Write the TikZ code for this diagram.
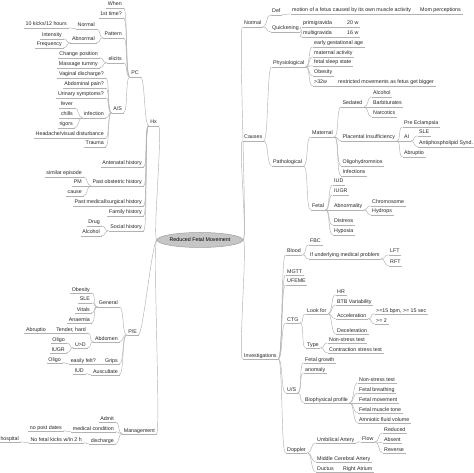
\documentclass[tikz,border=0pt]{standalone}
\usepackage{fontspec}
\setmainfont{Liberation Sans}
\usetikzlibrary{shapes.geometric}
\newcommand\mmfont{\fontsize{5.3}{6}\selectfont}
\begin{document}
\begin{tikzpicture}[x=1pt,y=-1pt,
  ul/.style={draw=gray!60, line width=0.45pt},
  con/.style={draw=gray!60, line width=0.45pt},
  tx/.style={font=\mmfont, text=black!85, inner xsep=1.5pt, inner ysep=0.6pt, text height=4pt, text depth=1pt,
    append after command={\pgfextra{\let\ulnode=\tikzlastnode} (\ulnode.south west) edge[ul] (\ulnode.south east)}},
  nr/.style={tx, anchor=base west},
  nl/.style={tx, anchor=base east},
  rc/.style={out=0, in=180, out distance=4.5pt, in distance=4.5pt},
  lc/.style={out=180, in=0, out distance=4.5pt, in distance=4.5pt}]
\fill[white] (0,0) rectangle (474,473);
\useasboundingbox (0,0) rectangle (474,473);

\node[ellipse, fill=gray!45, draw=gray!75, line width=0.5pt, minimum width=67pt, minimum height=15pt, inner sep=0pt, font=\mmfont, text=black] (c) at (200,240) {Reduced Fetal Movement};

% right side
\node[nr] (nrm) at (242.5,25) {Normal};
\node[nr] (cau) at (242.5,139) {Causes};
\node[nr] (inv) at (242.5,357) {Investigations};
\node[nr] (def) at (270.5,13) {Def};
\node[nr] (qck) at (270.5,30) {Quickening};
\node[nr] (mot) at (290.5,12) {motion of a fetus caused by its own muscle activity};
\node[nr] (mom) at (418.5,12) {Mom perceptions};
\node[nr] (pri) at (301.5,25) {primigravida};
\node[nr] (mul) at (301.5,35) {multigravida};
\node[nr] (w20) at (345.5,25) {20 w};
\node[nr] (w16) at (345.5,35) {16 w};
\node[nr] (phy) at (271.5,65) {Physiological};
\node[nr] (pat) at (271.5,164) {Pathological};
\node[nr] (ega) at (312.5,45) {early gestational age};
\node[nr] (mac) at (312.5,55) {maternal activity};
\node[nr] (fss) at (312.5,64) {fetal sleep state};
\node[nr] (obe) at (312.5,74) {Obesity};
\node[nr] (w32) at (312.5,84) {>32w};
\node[nr] (res) at (336.5,84) {restricted movements as fetus get bigger};
\node[nr] (mtl) at (310.5,135) {Maternal};
\node[nr] (fet) at (310.5,208) {Fetal};
\node[nr] (sed) at (341,105) {Sedated};
\node[nr] (pla) at (341,139) {Placental Insufficiency};
\node[nr] (oli) at (341,164) {Oligohydromnios};
\node[nr] (inf) at (341,174) {Infections};
\node[nr] (alc) at (371.5,95) {Alcohol};
\node[nr] (bar) at (371.5,105) {Barbiturates};
\node[nr] (nar) at (371.5,115) {Narcotics};
\node[nr] (pre) at (402.5,125) {Pre Eclampsia};
\node[nr] (ai) at (402.5,139) {AI};
\node[nr] (abr) at (402.5,155) {Abruptio};
\node[nr] (sle) at (417.5,134) {SLE};
\node[nr] (aps) at (417.5,145) {Antiphospholipid Synd.};
\node[nr] (iud) at (332.5,183) {IUD};
\node[nr] (iug) at (332.5,193) {IUGR};
\node[nr] (abn) at (332.5,208) {Abnormality};
\node[nr] (dst) at (332.5,223) {Distress};
\node[nr] (hyp) at (332.5,233) {Hypoxia};
\node[nr] (chr) at (370.5,204) {Chromosome};
\node[nr] (hyd) at (370.5,213) {Hydrops};

\node[nr] (blo) at (285.5,253) {Blood};
\node[nr] (mgt) at (285.5,273) {MGTT};
\node[nr] (ufe) at (285.5,283) {UFEME};
\node[nr] (ctg) at (285.5,321) {CTG};
\node[nr] (us) at (285.5,391) {U/S};
\node[nr] (dop) at (285.5,451) {Doppler};
\node[nr] (fbc) at (308.5,243) {FBC};
\node[nr] (ifu) at (308.5,257) {If underlying medical problem};
\node[nr] (lft) at (388.5,253) {LFT};
\node[nr] (rft) at (388.5,264) {RFT};
\node[nr] (lkf) at (305.5,312) {Look for};
\node[nr] (typ) at (305.5,346) {Type};
\node[nr] (hr) at (335.5,293) {HR};
\node[nr] (btb) at (335.5,303) {BTB Variability};
\node[nr] (acc) at (335.5,317) {Acceleration};
\node[nr] (dec) at (335.5,332) {Deceleration};
\node[nr] (a15) at (374.5,312) {>=15 bpm, >= 15 sec};
\node[nr] (a2) at (374.5,322) {>= 2};
\node[nr] (nst) at (327.5,341) {Non-stress test};
\node[nr] (cst) at (327.5,351) {Contraction stress test};
\node[nr] (fgr) at (303.5,361) {Fetal growth};
\node[nr] (ano) at (303.5,371) {anomaly};
\node[nr] (bpp) at (303.5,401) {Biophysical profile};
\node[nr] (bp1) at (357.5,381) {Non-stress test};
\node[nr] (bp2) at (357.5,391) {Fetal breathing};
\node[nr] (bp3) at (357.5,401) {Fetal movement};
\node[nr] (bp4) at (357.5,411) {Fetal muscle tone};
\node[nr] (bp5) at (357.5,421) {Amniotic fluid volume};
\node[nr] (uma) at (315.5,441) {Umbilical Artery};
\node[nr] (mca) at (315.5,460) {Middle Cerebral Artery};
\node[nr] (duc) at (315.5,470) {Ductus};
\node[nr] (flo) at (360.5,440) {Flow};
\node[nr] (red) at (382.5,431) {Reduced};
\node[nr] (abs) at (382.5,441) {Absent};
\node[nr] (rev) at (382.5,451) {Reverse};
\node[nr] (ra) at (341.5,470) {Right Atrium};

% left side
\node[nl] (hx) at (158.5,124) {Hx};
\node[nl] (pe) at (138.5,333) {P/E};
\node[nl] (man) at (156.5,432) {Management};
\node[nl] (pc) at (140.5,75) {PC};
\node[nl] (ant) at (143.5,165) {Antenatal history};
\node[nl] (pob) at (143.5,184) {Past obstetric history};
\node[nl] (pms) at (143.5,204) {Past medical/surgical history};
\node[nl] (fam) at (143.5,214) {Family history};
\node[nl] (soc) at (143.5,229) {Social history};
\node[nl] (whn) at (123.5,6) {When};
\node[nl] (fst) at (123.5,16) {1st time?};
\node[nl] (ptn) at (123.5,36) {Pattern};
\node[nl] (eli) at (123.5,61) {elicits};
\node[nl] (as) at (123.5,111) {A/S};
\node[nl] (pnm) at (96.5,27) {Normal};
\node[nl] (pab) at (96.5,41) {Abnormal};
\node[nl] (k10) at (68.5,26) {10 kicks/12 hours};
\node[nl] (ins) at (63.5,37) {Intensity};
\node[nl] (frq) at (63.5,46) {Frequency};
\node[nl] (chp) at (99.5,56) {Change position};
\node[nl] (mas) at (99.5,66) {Massage tummy};
\node[nl] (vag) at (105.5,76) {Vaginal discharge?};
\node[nl] (abd) at (105.5,86) {Abdominal pain?};
\node[nl] (uri) at (105.5,96) {Urinary symptoms?};
\node[nl] (ifc) at (105.5,116) {infection};
\node[nl] (hea) at (105.5,136) {Headache/visual disturbance};
\node[nl] (tra) at (105.5,145) {Trauma};
\node[nl] (fev) at (74.5,106) {fever};
\node[nl] (chi) at (74.5,116) {chills};
\node[nl] (rig) at (74.5,126) {rigors};
\node[nl] (sim) at (83.5,175) {similar episode};
\node[nl] (pm) at (83.5,184) {PM};
\node[nl] (cse) at (83.5,194) {cause};
\node[nl] (drg) at (101.5,224) {Drug};
\node[nl] (alk) at (101.5,234) {Alcohol};
\node[nl] (gen) at (119.5,305) {General};
\node[nl] (abm) at (119.5,340) {Abdomen};
\node[nl] (grp) at (119.5,362) {Grips};
\node[nl] (aus) at (119.5,373) {Auscultate};
\node[nl] (obs) at (91.5,291) {Obesity};
\node[nl] (sl2) at (91.5,301) {SLE};
\node[nl] (vit) at (91.5,311) {Vitals};
\node[nl] (ana) at (91.5,321) {Anaemia};
\node[nl] (tnd) at (87.5,331) {Tender, hard};
\node[nl] (ud) at (87.5,346) {U>D};
\node[nl] (ab2) at (47.5,331) {Abruptio};
\node[nl] (ol1) at (66.5,341) {Oligo};
\node[nl] (ig2) at (66.5,351) {IUGR};
\node[nl] (eas) at (97.5,362) {easily felt?};
\node[nl] (ol2) at (62.5,361) {Oligo};
\node[nl] (iu2) at (85.5,372) {IUD};
\node[nl] (adm) at (115.5,420) {Admit};
\node[nl] (med) at (115.5,430) {medical condition};
\node[nl] (dsc) at (115.5,442) {discharge};
\node[nl] (npd) at (63.5,429) {no post dates};
\node[nl] (nfk) at (83.5,441) {No fetal kicks w/in 2 h};
\node[nl] (hos) at (20.5,440) {hospital};

% connectors
\foreach \n in {nrm,cau,inv} \draw[con] (c.east) to[rc] (\n.south west);
\foreach \n in {hx,pe,man} \draw[con] (c.west) to[lc] (\n.south east);

\foreach \p/\q in {nrm/def, nrm/qck, def/mot, mot/mom, qck/pri, qck/mul, pri/w20, mul/w16,
  cau/phy, cau/pat, phy/ega, phy/mac, phy/fss, phy/obe, phy/w32, w32/res,
  pat/mtl, pat/fet, mtl/sed, mtl/pla, mtl/oli, mtl/inf, sed/alc, sed/bar, sed/nar,
  pla/pre, pla/ai, pla/abr, ai/sle, ai/aps, fet/iud, fet/iug, fet/abn, fet/dst, fet/hyp,
  abn/chr, abn/hyd,
  inv/blo, inv/mgt, inv/ufe, inv/ctg, inv/us, inv/dop, blo/fbc, blo/ifu, ifu/lft, ifu/rft,
  ctg/lkf, ctg/typ, lkf/hr, lkf/btb, lkf/acc, lkf/dec, acc/a15, acc/a2, typ/nst, typ/cst,
  us/fgr, us/ano, us/bpp, bpp/bp1, bpp/bp2, bpp/bp3, bpp/bp4, bpp/bp5,
  dop/uma, dop/mca, dop/duc, uma/flo, flo/red, flo/abs, flo/rev, duc/ra}
  \draw[con] (\p.south east) to[rc] (\q.south west);

\foreach \p/\q in {hx/pc, hx/ant, hx/pob, hx/pms, hx/fam, hx/soc,
  pc/whn, pc/fst, pc/ptn, pc/eli, pc/as, ptn/pnm, ptn/pab, pnm/k10, pab/ins, pab/frq,
  eli/chp, eli/mas, as/vag, as/abd, as/uri, as/ifc, as/hea, as/tra, ifc/fev, ifc/chi, ifc/rig,
  pob/sim, pob/pm, pob/cse, soc/drg, soc/alk,
  pe/gen, pe/abm, pe/grp, pe/aus, gen/obs, gen/sl2, gen/vit, gen/ana, abm/tnd, abm/ud,
  tnd/ab2, ud/ol1, ud/ig2, grp/eas, eas/ol2, aus/iu2,
  man/adm, man/med, man/dsc, med/npd, dsc/nfk, nfk/hos}
  \draw[con] (\p.south west) to[lc] (\q.south east);
\end{tikzpicture}
\end{document}
